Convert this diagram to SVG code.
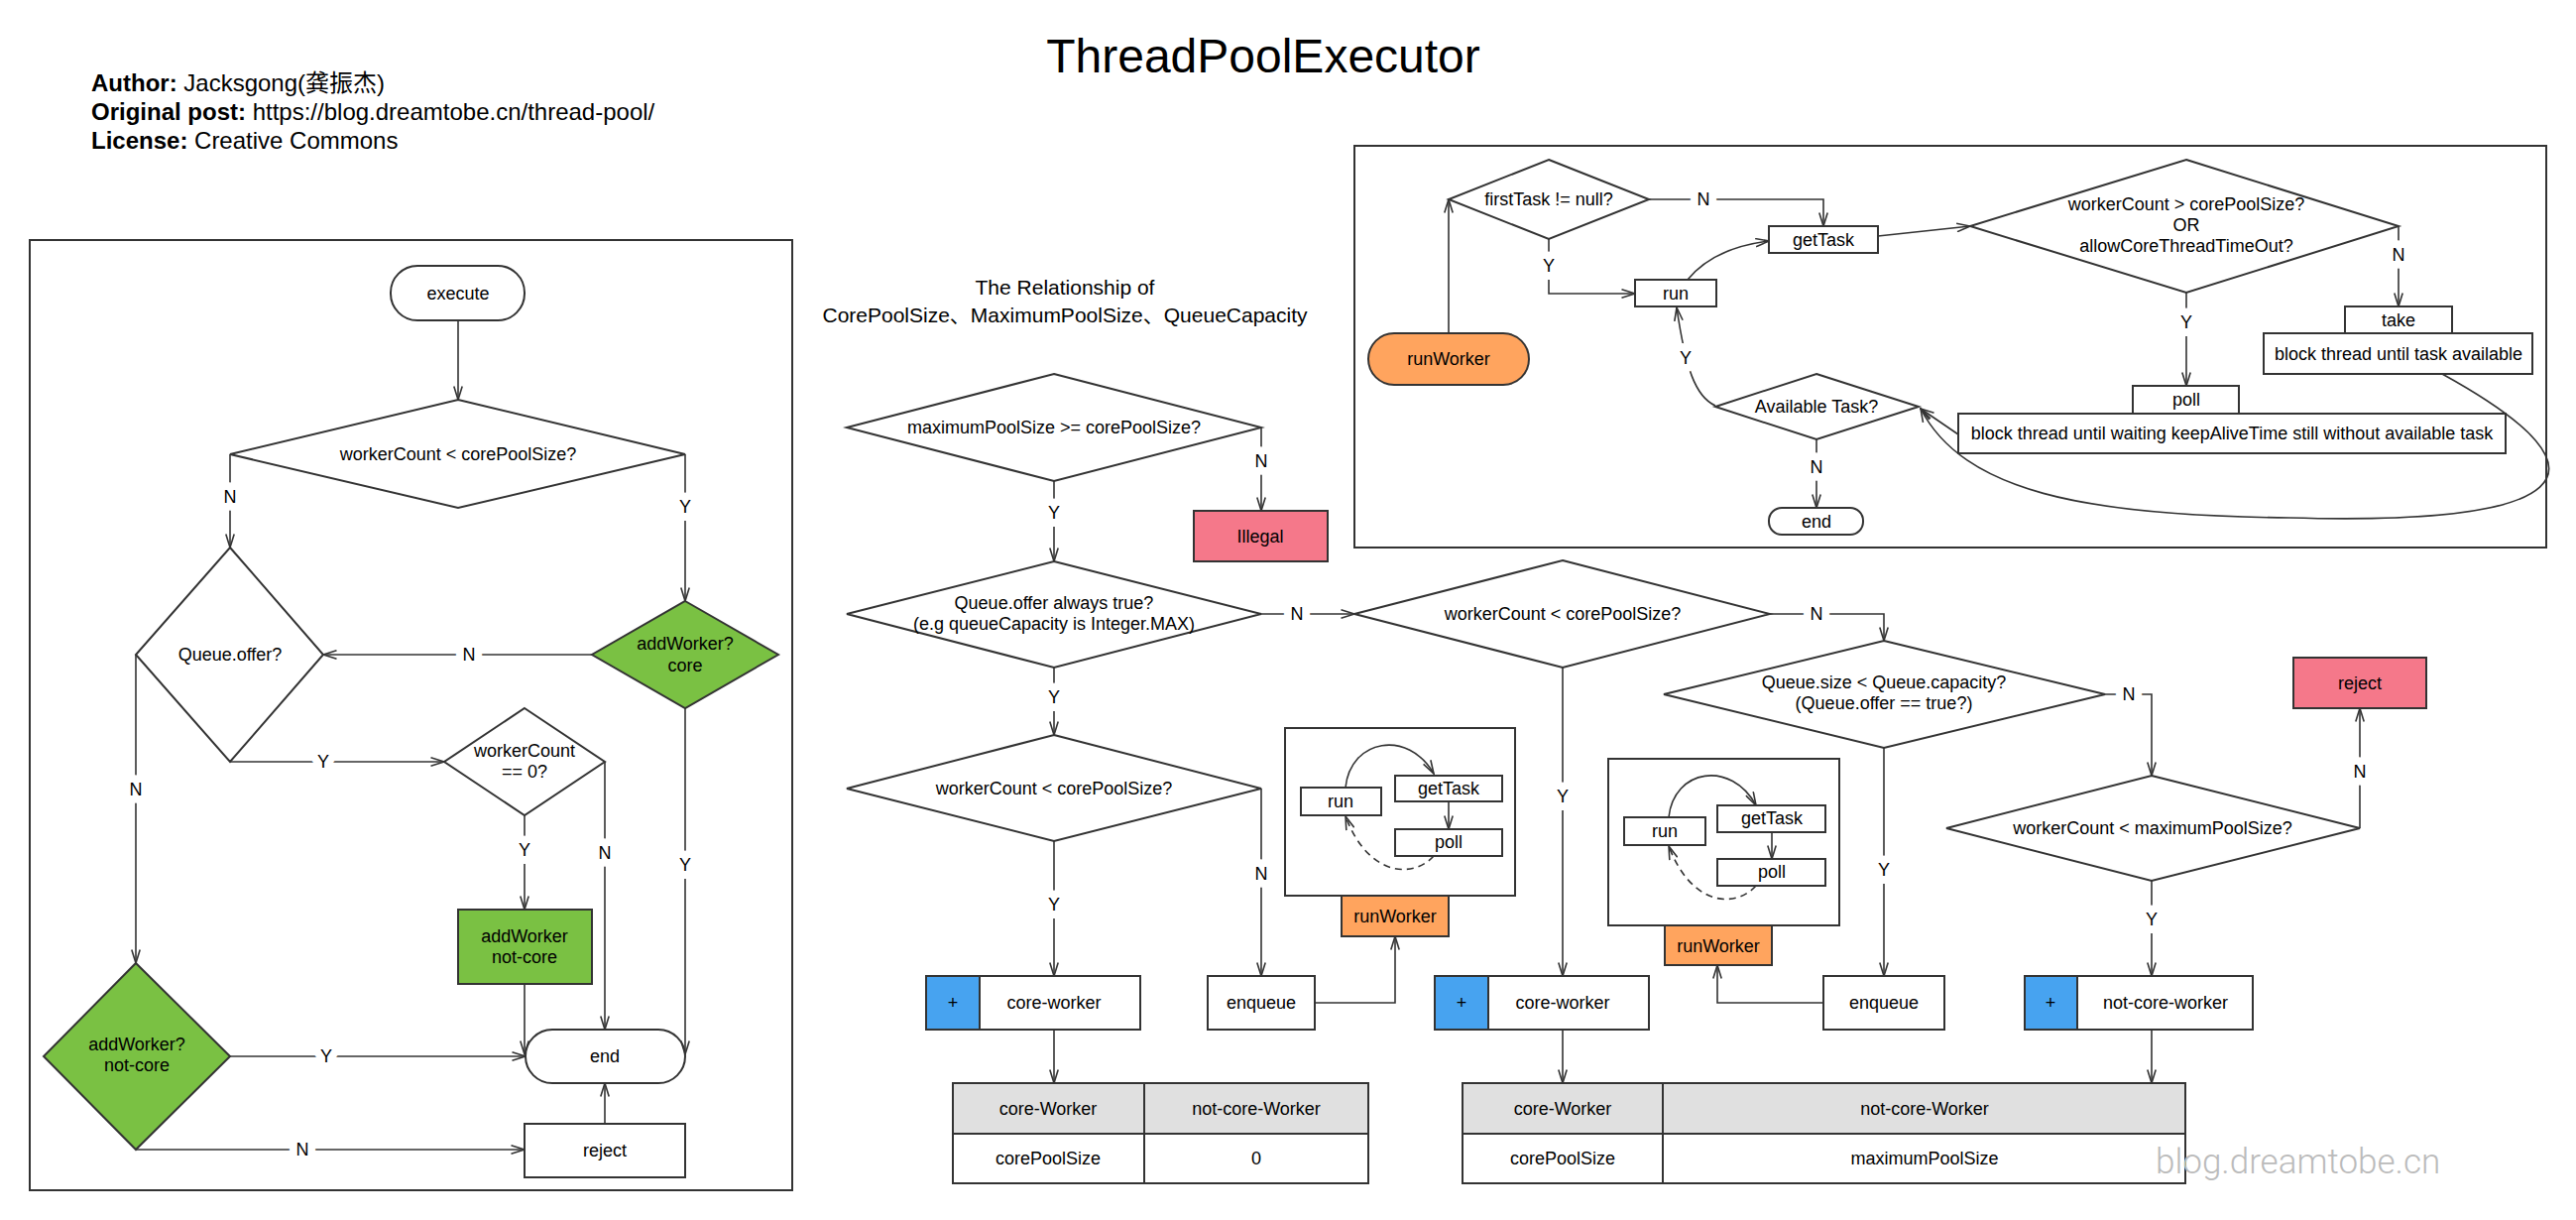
<svg xmlns="http://www.w3.org/2000/svg" width="2598" height="1230" viewBox="0 0 2598 1230">
<style>
.s{fill:#fff;stroke:#333;stroke-width:2}
.g{fill:#7AC143;stroke:#333;stroke-width:2}
.o{fill:#FFA45E;stroke:#333;stroke-width:2}
.p{fill:#F5788A;stroke:#333;stroke-width:2}
.b{fill:#47A3F0;stroke:#333;stroke-width:2}
.h{fill:#E0E0E0;stroke:#333;stroke-width:2}
.f{fill:none;stroke:#333;stroke-width:2}
.c{fill:none;stroke:#333;stroke-width:1.6;marker-end:url(#a)}
.d{fill:none;stroke:#333;stroke-width:1.6;stroke-dasharray:7 5;marker-end:url(#a)}
.t{font-family:"Liberation Sans",Arial,sans-serif;font-size:18px;fill:#000;text-anchor:middle}
.l{font-family:"Liberation Sans",Arial,sans-serif;font-size:18px;fill:#000;text-anchor:middle;stroke:#fff;stroke-width:16;stroke-linejoin:round;paint-order:stroke}
</style>
<defs>
<marker id="a" viewBox="0 0 15 10" refX="14" refY="5" markerWidth="15" markerHeight="10" markerUnits="userSpaceOnUse" orient="auto"><path d="M0.5,0.8 L14,5 L0.5,9.2" fill="none" stroke="#333" stroke-width="1.6"/></marker>
</defs>
<rect width="2598" height="1230" fill="#fff"/>

<text x="1274" y="73" font-family="Liberation Sans,Arial,sans-serif" font-size="48" text-anchor="middle">ThreadPoolExecutor</text>
<g font-family="Liberation Sans,Noto Sans CJK SC,sans-serif" font-size="24">
<text x="92" y="92"><tspan font-weight="bold">Author:</tspan> Jacksgong(龚振杰)</text>
<text x="92" y="121"><tspan font-weight="bold">Original post:</tspan> https://blog.dreamtobe.cn/thread-pool/</text>
<text x="92" y="150"><tspan font-weight="bold">License:</tspan> Creative Commons</text>
</g>
<text x="1074" y="297" font-family="Liberation Sans,Noto Sans CJK SC,sans-serif" font-size="21" text-anchor="middle">The Relationship of</text>
<text x="1074" y="325" font-family="Liberation Sans,Noto Sans CJK SC,sans-serif" font-size="21" text-anchor="middle">CorePoolSize、MaximumPoolSize、QueueCapacity</text>

<rect id="panel-left" class="f" x="30" y="242" width="769" height="958"/>
<rect id="panel-top-right" class="f" x="1366" y="147" width="1202" height="405"/>

<!-- left panel nodes -->
<g id="execute"><rect class="s" x="394" y="268" width="135" height="55" rx="27"/><text class="t" x="462" y="302">execute</text></g>
<g id="d-workercount-core"><polygon class="s" points="462,403 691,458 462,512 232,458"/><text class="t" x="462" y="464">workerCount &lt; corePoolSize?</text></g>
<g id="d-queue-offer"><polygon class="s" points="232,552 326,660 232,768 137,660"/><text class="t" x="232" y="666">Queue.offer?</text></g>
<g id="d-addworker-core"><polygon class="g" points="691,606 785,660 691,714 597,660"/><text class="t" x="691" y="655">addWorker?</text><text class="t" x="691" y="677">core</text></g>
<g id="d-workercount-zero"><polygon class="s" points="529,714 610,768 529,822 448,768"/><text class="t" x="529" y="763">workerCount</text><text class="t" x="529" y="784">== 0?</text></g>
<g id="addworker-notcore"><rect class="g" x="462" y="917" width="135" height="75"/><text class="t" x="529" y="950">addWorker</text><text class="t" x="529" y="971">not-core</text></g>
<g id="d-addworker-notcore"><polygon class="g" points="137,971 232,1065 137,1159 44,1065"/><text class="t" x="138" y="1059">addWorker?</text><text class="t" x="138" y="1080">not-core</text></g>
<g id="end-left"><rect class="s" x="530" y="1038" width="161" height="54" rx="27"/><text class="t" x="610" y="1071">end</text></g>
<g id="reject-left"><rect class="s" x="529" y="1133" width="162" height="54"/><text class="t" x="610" y="1166">reject</text></g>

<!-- middle nodes -->
<g id="d-max-ge-core"><polygon class="s" points="1063,377 1272,431 1063,485 854,431"/><text class="t" x="1063" y="437">maximumPoolSize &gt;= corePoolSize?</text></g>
<g id="illegal"><rect class="p" x="1204" y="515" width="135" height="51"/><text class="t" x="1271" y="547">Illegal</text></g>
<g id="d-offer-always"><polygon class="s" points="1063,566 1272,619 1063,673 854,619"/><text class="t" x="1063" y="614">Queue.offer always true?</text><text class="t" x="1063" y="635">(e.g queueCapacity is Integer.MAX)</text></g>
<g id="d-workercount-core-2"><polygon class="s" points="1063,741 1272,795 1063,848 854,795"/><text class="t" x="1063" y="801">workerCount &lt; corePoolSize?</text></g>
<g id="core-worker-1"><rect class="s" x="988" y="984" width="162" height="54"/><rect class="b" x="934" y="984" width="54" height="54"/><text class="t" x="961" y="1017">+</text><text class="t" x="1063" y="1017">core-worker</text></g>
<g id="enqueue-1"><rect class="s" x="1218" y="984" width="108" height="54"/><text class="t" x="1272" y="1017">enqueue</text></g>
<g id="table-1">
<rect class="h" x="961" y="1092" width="419" height="51"/>
<rect class="s" x="961" y="1143" width="419" height="50"/>
<path class="f" d="M1154,1092 V1193"/>
<text class="t" x="1057" y="1124">core-Worker</text><text class="t" x="1267" y="1124">not-core-Worker</text>
<text class="t" x="1057" y="1174">corePoolSize</text><text class="t" x="1267" y="1174">0</text>
</g>
<g id="runworker-mini-1">
<rect class="s" x="1296" y="734" width="232" height="169"/>
<rect class="o" x="1353" y="903" width="108" height="41"/><text class="t" x="1407" y="930">runWorker</text>
<rect class="s" x="1312" y="794" width="81" height="28"/><text class="t" x="1352" y="814">run</text>
<rect class="s" x="1407" y="782" width="108" height="26"/><text class="t" x="1461" y="801">getTask</text>
<rect class="s" x="1407" y="836" width="108" height="27"/><text class="t" x="1461" y="855">poll</text>
</g>

<!-- right middle nodes -->
<g id="d-workercount-core-3"><polygon class="s" points="1576,565 1785,619 1576,673 1366,619"/><text class="t" x="1576" y="625">workerCount &lt; corePoolSize?</text></g>
<g id="d-queue-size"><polygon class="s" points="1900,646 2123,700 1900,754 1678,700"/><text class="t" x="1900" y="694">Queue.size &lt; Queue.capacity?</text><text class="t" x="1900" y="715">(Queue.offer == true?)</text></g>
<g id="d-workercount-max"><polygon class="s" points="2170,782 2380,835 2170,888 1963,835"/><text class="t" x="2171" y="841">workerCount &lt; maximumPoolSize?</text></g>
<g id="reject-right"><rect class="p" x="2313" y="663" width="134" height="51"/><text class="t" x="2380" y="695">reject</text></g>
<g id="core-worker-2"><rect class="s" x="1501" y="984" width="162" height="54"/><rect class="b" x="1447" y="984" width="54" height="54"/><text class="t" x="1474" y="1017">+</text><text class="t" x="1576" y="1017">core-worker</text></g>
<g id="enqueue-2"><rect class="s" x="1839" y="984" width="122" height="54"/><text class="t" x="1900" y="1017">enqueue</text></g>
<g id="not-core-worker"><rect class="s" x="2095" y="984" width="177" height="54"/><rect class="b" x="2042" y="984" width="53" height="54"/><text class="t" x="2068" y="1017">+</text><text class="t" x="2184" y="1017">not-core-worker</text></g>
<g id="table-2">
<rect class="h" x="1475" y="1092" width="729" height="51"/>
<rect class="s" x="1475" y="1143" width="729" height="50"/>
<path class="f" d="M1677,1092 V1193"/>
<text class="t" x="1576" y="1124">core-Worker</text><text class="t" x="1941" y="1124">not-core-Worker</text>
<text class="t" x="1576" y="1174">corePoolSize</text><text class="t" x="1941" y="1174">maximumPoolSize</text>
</g>
<g id="runworker-mini-2">
<rect class="s" x="1622" y="765" width="233" height="168"/>
<rect class="o" x="1679" y="933" width="108" height="40"/><text class="t" x="1733" y="960">runWorker</text>
<rect class="s" x="1638" y="824" width="82" height="28"/><text class="t" x="1679" y="844">run</text>
<rect class="s" x="1732" y="812" width="109" height="27"/><text class="t" x="1787" y="831">getTask</text>
<rect class="s" x="1732" y="866" width="109" height="27"/><text class="t" x="1787" y="885">poll</text>
</g>

<!-- top right nodes -->
<g id="runworker-start"><rect class="o" x="1380" y="336" width="162" height="52" rx="26"/><text class="t" x="1461" y="368">runWorker</text></g>
<g id="d-firsttask"><polygon class="s" points="1562,161 1663,201 1562,241 1461,201"/><text class="t" x="1562" y="207">firstTask != null?</text></g>
<g id="gettask"><rect class="s" x="1784" y="228" width="110" height="27"/><text class="t" x="1839" y="248">getTask</text></g>
<g id="run"><rect class="s" x="1649" y="282" width="82" height="27"/><text class="t" x="1690" y="302">run</text></g>
<g id="d-timeout"><polygon class="s" points="2205,161 2419,228 2205,295 1987,228"/><text class="t" x="2205" y="212">workerCount &gt; corePoolSize?</text><text class="t" x="2205" y="233">OR</text><text class="t" x="2205" y="254">allowCoreThreadTimeOut?</text></g>
<g id="take"><rect class="s" x="2365" y="309" width="108" height="27"/><text class="t" x="2419" y="329">take</text></g>
<g id="block-take"><rect class="s" x="2283" y="336" width="271" height="41"/><text class="t" x="2419" y="363">block thread until task available</text></g>
<g id="poll"><rect class="s" x="2151" y="389" width="107" height="28"/><text class="t" x="2205" y="409">poll</text></g>
<g id="block-poll"><rect class="s" x="1975" y="417" width="552" height="40"/><text class="t" x="2251" y="443">block thread until waiting keepAliveTime still without available task</text></g>
<g id="d-available"><polygon class="s" points="1832,377 1935,410 1832,443 1730,410"/><text class="t" x="1832" y="416">Available Task?</text></g>
<g id="end-top"><rect class="s" x="1784" y="512" width="95" height="27" rx="13"/><text class="t" x="1832" y="532">end</text></g>

<g id="connectors">
<!-- left panel -->
<path class="c" d="M462,323 V403"/>
<path class="c" d="M232,458 V552"/>
<path class="c" d="M691,458 V606"/>
<path class="c" d="M597,660 H326"/>
<path class="c" d="M232,768 H448"/>
<path class="c" d="M137,660 V971"/>
<path class="c" d="M529,822 V917"/>
<path class="c" d="M610,768 V1038"/>
<path class="c" d="M691,714 V1063"/>
<path class="c" d="M529,992 V1063"/>
<path class="c" d="M232,1065 H530"/>
<path class="c" d="M137,1159 H529"/>
<path class="c" d="M610,1133 V1092"/>
<!-- middle -->
<path class="c" d="M1063,485 V566"/>
<path class="c" d="M1272,431 V515"/>
<path class="c" d="M1272,619 H1366"/>
<path class="c" d="M1063,673 V741"/>
<path class="c" d="M1063,848 V984"/>
<path class="c" d="M1272,795 V984"/>
<path class="c" d="M1326,1011 H1407 V944"/>
<path class="c" d="M1063,1038 V1092"/>
<!-- right middle -->
<path class="c" d="M1576,673 V984"/>
<path class="c" d="M1785,619 H1900 V646"/>
<path class="c" d="M1900,754 V984"/>
<path class="c" d="M1839,1011 H1732 V973"/>
<path class="c" d="M2123,700 H2170 V782"/>
<path class="c" d="M2380,835 V714"/>
<path class="c" d="M2170,888 V984"/>
<path class="c" d="M2170,1038 V1092"/>
<path class="c" d="M1576,1038 V1092"/>
<!-- top right -->
<path class="c" d="M1461,336 V201"/>
<path class="c" d="M1663,201 H1839 V228"/>
<path class="c" d="M1562,241 V296 H1649"/>
<path class="c" d="M1702,282 Q1728,250 1784,243"/>
<path class="c" d="M1894,238 L1987,228"/>
<path class="c" d="M2419,228 V309"/>
<path class="c" d="M2205,295 V389"/>
<path class="c" d="M1832,443 V512"/>
<path class="c" d="M1975,438 L1937,412"/>
<path class="c" d="M2463,377 C2650,480 2590,530 2309,522 C2100,520 1980,495 1937,412"/>
<path class="c" d="M1730,409 C1710,400 1700,372 1691,310"/>
<!-- mini box arrows -->
<path class="c" d="M1461,808 V836"/>
<path class="c" d="M1357,794 C1362,745 1420,735 1446,780"/>
<path class="d" d="M1446,863 C1425,886 1380,884 1357,823"/>
<path class="c" d="M1787,839 V866"/>
<path class="c" d="M1683,824 C1688,775 1746,766 1771,812"/>
<path class="d" d="M1771,893 C1750,916 1706,914 1683,853"/>
</g>

<g id="labels">
<text class="l" x="232" y="507">N</text>
<text class="l" x="691" y="517">Y</text>
<text class="l" x="473" y="666">N</text>
<text class="l" x="326" y="774">Y</text>
<text class="l" x="137" y="802">N</text>
<text class="l" x="529" y="863">Y</text>
<text class="l" x="610" y="866">N</text>
<text class="l" x="691" y="878">Y</text>
<text class="l" x="329" y="1071">Y</text>
<text class="l" x="305" y="1165">N</text>
<text class="l" x="1063" y="523">Y</text>
<text class="l" x="1272" y="471">N</text>
<text class="l" x="1308" y="625">N</text>
<text class="l" x="1063" y="709">Y</text>
<text class="l" x="1063" y="918">Y</text>
<text class="l" x="1272" y="887">N</text>
<text class="l" x="1576" y="809">Y</text>
<text class="l" x="1832" y="625">N</text>
<text class="l" x="1900" y="883">Y</text>
<text class="l" x="2147" y="706">N</text>
<text class="l" x="2380" y="784">N</text>
<text class="l" x="2170" y="933">Y</text>
<text class="l" x="1718" y="207">N</text>
<text class="l" x="1562" y="274">Y</text>
<text class="l" x="2419" y="263">N</text>
<text class="l" x="2205" y="331">Y</text>
<text class="l" x="1832" y="477">N</text>
<text class="l" x="1700" y="367">Y</text>
</g>

<text x="2174" y="1183" font-family="Roboto,Liberation Sans,sans-serif" font-weight="300" font-size="35" fill="#BBBBBB">blog.dreamtobe.cn</text>
</svg>
